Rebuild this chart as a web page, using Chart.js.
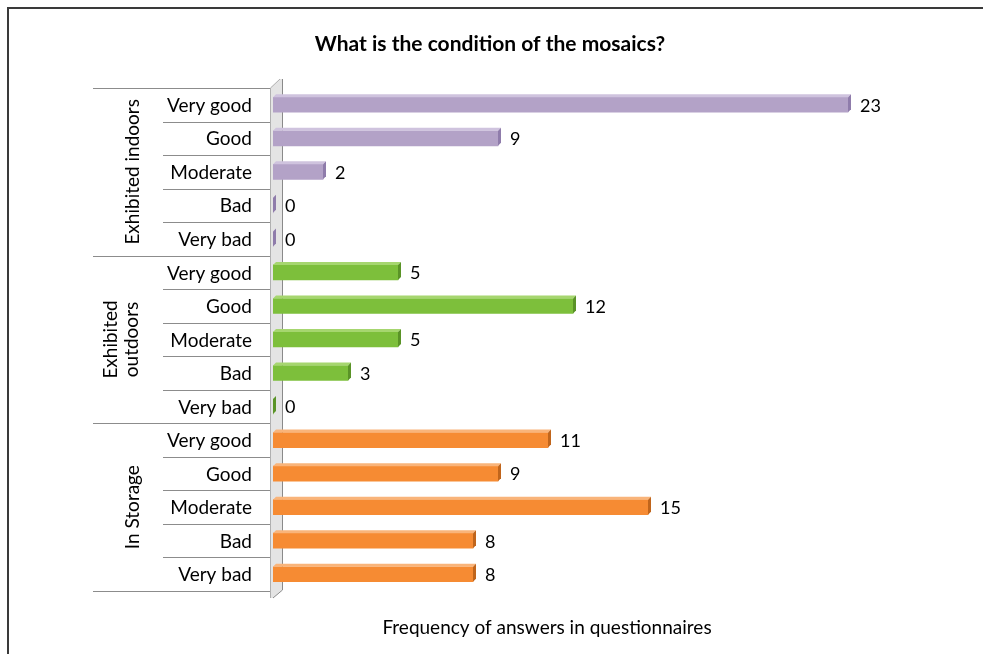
<!DOCTYPE html>
<html lang="en">
<head>
  <meta charset="UTF-8" />
  <title>Condition of the mosaics</title>
  <script src="https://cdn.jsdelivr.net/npm/chart.js"></script>
  <style>
    body {
      margin: 0;
      background: #fff;
    }
    #wrap {
      width: 983px;
      height: 654px;
      position: relative;
    }
  </style>
</head>
<body>
  <div id="wrap"><canvas id="mosaicChart"></canvas></div>

  <script>
    const conditions = ["Very good", "Good ", "Moderate", "Bad", "Very bad"];
    const groups = [["Exhibited indoors"], ["Exhibited", "outdoors"], ["In Storage"]];
    const indoors = [23, 9, 2, 0, 0];
    const outdoors = [5, 12, 5, 3, 0];
    const storage = [11, 9, 15, 8, 8];

    // face, end cap, top edge for each group
    const groupColors = [
      ["#b3a2c7", "#8f7cab", "#cfc3de"],
      ["#7dbf3b", "#5a9327", "#a6d66f"],
      ["#f68b33", "#c0651c", "#f9b47a"]
    ];

    const labels = [].concat(conditions, conditions, conditions);
    const values = [].concat(indoors, outdoors, storage);
    const groupOf = labels.map((_, i) => Math.floor(i / conditions.length));

    const FONT = "Lato, 'Open Sans', sans-serif";

    const frame3d = {
      id: "frame3d",
      beforeDatasetsDraw(chart) {
        const { ctx, chartArea, scales } = chart;
        const y = scales.y;
        const half = (y.getPixelForValue(1) - y.getPixelForValue(0)) / 2;
        const top = y.getPixelForValue(0) - half;
        const bottom = y.getPixelForValue(labels.length - 1) + half;
        const x0 = chartArea.left;
        ctx.save();

        // outer frame
        ctx.strokeStyle = "#3a3a3a";
        ctx.lineWidth = 2;
        ctx.beginPath();
        ctx.moveTo(8, 660);
        ctx.lineTo(8, 8);
        ctx.lineTo(990, 8);
        ctx.stroke();

        // chart title
        ctx.fillStyle = "#000";
        ctx.font = "bold 21px " + FONT;
        ctx.textAlign = "center";
        ctx.textBaseline = "middle";
        ctx.fillText("What is the condition of the mosaics?", 490, 44);

        // side wall of the 3D plot
        ctx.fillStyle = "#e4e4e4";
        ctx.beginPath();
        ctx.moveTo(x0 - 3, top);
        ctx.lineTo(x0 + 7, top - 9);
        ctx.lineTo(x0 + 9, top - 9);
        ctx.lineTo(x0 + 9, bottom - 1);
        ctx.lineTo(x0, bottom + 7);
        ctx.lineTo(x0 - 3, bottom + 7);
        ctx.closePath();
        ctx.fill();
        ctx.strokeStyle = "#b0b0b0";
        ctx.lineWidth = 1;
        ctx.beginPath();
        ctx.moveTo(x0 - 2.5, bottom + 7);
        ctx.lineTo(x0 - 2.5, top);
        ctx.lineTo(x0 + 7, top - 9);
        ctx.stroke();
        ctx.strokeStyle = "#8a8a8a";
        ctx.beginPath();
        ctx.moveTo(x0 + 9.5, top - 9);
        ctx.lineTo(x0 + 9.5, bottom - 1);
        ctx.lineTo(x0, bottom + 7);
        ctx.stroke();

        // category table lines
        ctx.strokeStyle = "#8c8c8c";
        for (let i = 0; i <= labels.length; i++) {
          const yy = Math.round(top + i * half * 2) + 0.5;
          const isGroup = i % conditions.length === 0;
          ctx.beginPath();
          ctx.moveTo(isGroup ? 93 : 163, yy);
          ctx.lineTo(x0 - 3, yy);
          ctx.stroke();
        }

        // condition labels
        ctx.fillStyle = "#000";
        ctx.font = "19px " + FONT;
        ctx.textAlign = "right";
        ctx.textBaseline = "middle";
        labels.forEach((lab, i) => {
          ctx.fillText(lab, 252 + (lab.endsWith(" ") ? ctx.measureText(" ").width : 0), y.getPixelForValue(i) + 1);
        });

        // group labels, rotated
        groups.forEach((lines, g) => {
          const first = g * conditions.length;
          const cy = (y.getPixelForValue(first) + y.getPixelForValue(first + conditions.length - 1)) / 2;
          ctx.save();
          ctx.translate(lines.length > 1 ? 121 : 133, cy);
          ctx.rotate(-Math.PI / 2);
          ctx.textAlign = "center";
          lines.forEach((t, k) => {
            ctx.fillText(t, 0, (k - (lines.length - 1) / 2) * 21);
          });
          ctx.restore();
        });
        ctx.restore();
      },
      afterDatasetsDraw(chart) {
        const { ctx } = chart;
        const meta = chart.getDatasetMeta(0);
        ctx.save();
        meta.data.forEach((bar, i) => {
          const cols = groupColors[groupOf[i]];
          const h = bar.height;
          const t = bar.y - h / 2;
          const b = bar.y + h / 2;
          const d = 3;
          // top edge
          if (bar.x > bar.base) {
            ctx.fillStyle = cols[2];
            ctx.beginPath();
            ctx.moveTo(bar.base, t);
            ctx.lineTo(bar.base + d, t - d);
            ctx.lineTo(bar.x + d, t - d);
            ctx.lineTo(bar.x, t);
            ctx.closePath();
            ctx.fill();
          }
          // end cap
          ctx.fillStyle = cols[1];
          ctx.beginPath();
          ctx.moveTo(bar.x, t);
          ctx.lineTo(bar.x + d, t - d);
          ctx.lineTo(bar.x + d, b - d);
          ctx.lineTo(bar.x, b);
          ctx.closePath();
          ctx.fill();

          // value label
          ctx.fillStyle = "#000";
          ctx.font = "18px " + FONT;
          ctx.textAlign = "left";
          ctx.textBaseline = "middle";
          ctx.fillText(String(values[i]), bar.x + 12, bar.y + 1);
        });

        // axis title under the plot
        ctx.font = "19px " + FONT;
        ctx.textAlign = "center";
        ctx.fillText("Frequency of answers in questionnaires", 547, 628);
        ctx.restore();
      }
    };

    new Chart(document.getElementById("mosaicChart"), {
      type: "bar",
      data: {
        labels: labels,
        datasets: [{
          data: values,
          backgroundColor: groupOf.map(g => groupColors[g][0]),
          borderWidth: 0,
          barThickness: 15
        }]
      },
      options: {
        indexAxis: "y",
        responsive: true,
        maintainAspectRatio: false,
        animation: false,
        layout: { padding: { left: 273, right: 60, top: 88, bottom: 63 } },
        scales: {
          x: { display: false, min: 0, max: 26 },
          y: { display: false }
        },
        plugins: {
          legend: { display: false },
          tooltip: { enabled: false },
          title: { display: false }
        }
      },
      plugins: [frame3d]
    });
  </script>
</body>
</html>
